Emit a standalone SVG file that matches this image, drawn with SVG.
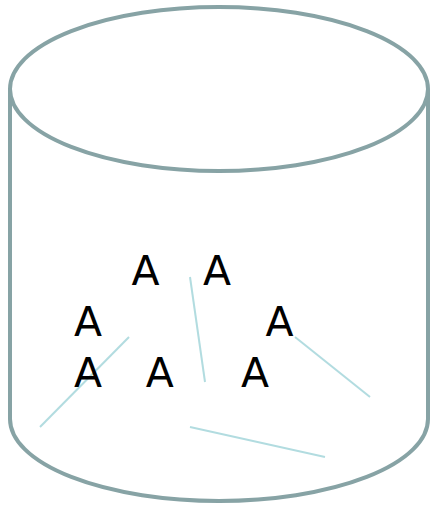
<svg xmlns="http://www.w3.org/2000/svg" width="430" height="505" viewBox="0 0 430 505">
<style>
.cyl{fill:#fff;stroke:#87a3a5;stroke-width:4}
.t{font-family:"DejaVu Sans",sans-serif;font-size:41px;fill:#000;text-anchor:middle}
.e{stroke:#b2dce0;stroke-width:2;fill:none}
</style>
<g id="cylinder">
<path class="cyl" d="M10,89 L10,419 A209,82 0 0 0 428,419 L428,89"/>
<ellipse class="cyl" cx="219" cy="89" rx="209" ry="82"/>
</g>
<g id="edges">
<line class="e" x1="190" y1="277" x2="205" y2="382"/>
<line class="e" x1="129" y1="337" x2="40" y2="427"/>
<line class="e" x1="295" y1="337" x2="370" y2="397"/>
<line class="e" x1="190" y1="427" x2="325" y2="457"/>
</g>
<g id="n1"><text class="t" x="145.5" y="285">A</text></g>
<g id="n2"><text class="t" x="217" y="285">A</text></g>
<g id="n3"><text class="t" x="88" y="336">A</text></g>
<g id="n4"><text class="t" x="279.5" y="336">A</text></g>
<g id="n5"><text class="t" x="88" y="387">A</text></g>
<g id="n6"><text class="t" x="159.7" y="387">A</text></g>
<g id="n7"><text class="t" x="255" y="387">A</text></g>
</svg>
